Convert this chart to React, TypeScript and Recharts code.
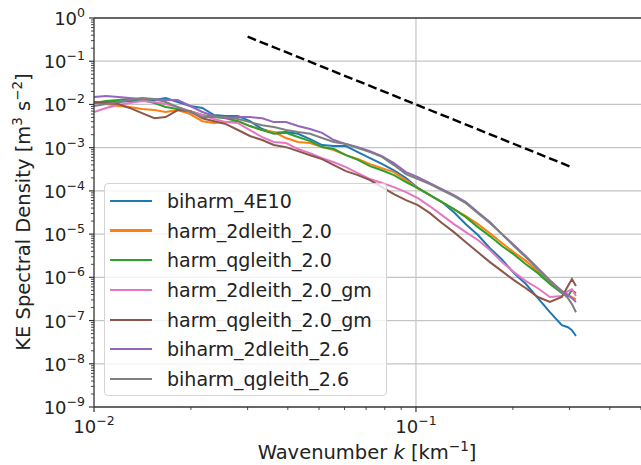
import { LineChart, Line, XAxis, YAxis, Legend, ReferenceLine, Label } from 'recharts';

// wavenumber k [1/km]
const wavenumber = [
	0.01, 0.0109, 0.0119, 0.0129, 0.0141, 0.0154, 0.0167, 0.0182, 0.0199, 0.0217, 0.0236, 0.0257, 0.028, 0.0305,
	0.0333, 0.0362, 0.0395, 0.043, 0.0469, 0.0511, 0.0556, 0.0606, 0.066, 0.072, 0.0784, 0.0854, 0.0931, 0.1014,
	0.1105, 0.1204, 0.1312, 0.1429, 0.1558, 0.1697, 0.1849, 0.2015, 0.2195, 0.2392, 0.2606, 0.2839, 0.2965, 0.3051,
	0.314,
];

// KE spectral density [m^3 s^-2]
const biharm4E10 = [
	1.08e-2, 1.14e-2, 1.14e-2, 1.2e-2, 1.2e-2, 1.26e-2, 1.41e-2, 1.14e-2, 9.2e-3, 8.3e-3, 5.7e-3, 5.4e-3, 5.4e-3, 4.1e-3,
	2.7e-3, 2.2e-3, 2.3e-3, 2.1e-3, 1.58e-3, 1.15e-3, 1.09e-3, 1.09e-3, 7.9e-4, 5.7e-4, 4.2e-4, 3.0e-4, 1.98e-4, 1.16e-4,
	8.0e-5, 5.5e-5, 3.2e-5, 1.7e-5, 9.5e-6, 4.7e-6, 2.6e-6, 1.25e-6, 7.0e-7, 3.3e-7, 1.56e-7, 7.8e-8, 7.0e-8, 6.0e-8,
	4.4e-8,
];
const harm2dleith = [
	1.14e-2, 1.02e-2, 9.2e-3, 8.7e-3, 7.8e-3, 7.4e-3, 6.7e-3, 7.4e-3, 6.0e-3, 4.1e-3, 3.7e-3, 3.9e-3, 4.1e-3, 3.16e-3,
	2.56e-3, 2.3e-3, 1.67e-3, 1.35e-3, 1.28e-3, 1.03e-3, 8.8e-4, 6.7e-4, 5.45e-4, 4.17e-4, 3.37e-4, 2.72e-4, 1.78e-4,
	1.16e-4, 8.0e-5, 5.5e-5, 3.8e-5, 2.6e-5, 1.7e-5, 1.05e-5, 6.2e-6, 3.8e-6, 2.4e-6, 1.39e-6, 7.7e-7, 4.8e-7, 3.9e-7,
	3.5e-7, 3.1e-7,
];
const harmQgleith = [
	1.08e-2, 1.2e-2, 1.26e-2, 1.33e-2, 1.26e-2, 1.08e-2, 8.7e-3, 7.8e-3, 7.0e-3, 5.7e-3, 5.1e-3, 4.8e-3, 4.1e-3, 3.16e-3,
	2.56e-3, 2.1e-3, 2.2e-3, 1.76e-3, 1.42e-3, 1.03e-3, 9.3e-4, 6.7e-4, 5.2e-4, 3.75e-4, 3.0e-4, 2.32e-4, 1.6e-4,
	1.16e-4, 8.0e-5, 5.5e-5, 3.8e-5, 2.47e-5, 1.45e-5, 9.0e-6, 5.3e-6, 3.4e-6, 2.0e-6, 1.25e-6, 7.0e-7, 4.3e-7, 3.7e-7,
	5.1e-7, 4.3e-7,
];
const harm2dleithGm = [
	6.7e-3, 8.3e-3, 9.7e-3, 1.08e-2, 1.2e-2, 1.14e-2, 1.02e-2, 8.7e-3, 7.0e-3, 5.7e-3, 4.6e-3, 3.9e-3, 3.7e-3, 2.56e-3,
	1.76e-3, 1.35e-3, 1.28e-3, 9.3e-4, 7.5e-4, 5.7e-4, 4.6e-4, 3.56e-4, 2.58e-4, 1.88e-4, 1.52e-4, 1.22e-4, 9.4e-5,
	6.8e-5, 4.4e-5, 2.75e-5, 1.7e-5, 1.11e-5, 7.3e-6, 4.3e-6, 2.25e-6, 1.32e-6, 8.2e-7, 5.6e-7, 3.5e-7, 3.7e-7, 4.8e-7,
	5.3e-7, 3.7e-7,
];
const harmQgleithGm = [
	1.14e-2, 1.08e-2, 1.02e-2, 8.3e-3, 6.3e-3, 4.8e-3, 5.1e-3, 7.4e-3, 7.0e-3, 4.8e-3, 4.1e-3, 3.5e-3, 2.56e-3, 1.86e-3,
	1.5e-3, 1.15e-3, 1.03e-3, 8.3e-4, 6.7e-4, 5.45e-4, 3.96e-4, 2.87e-4, 2.32e-4, 1.78e-4, 1.22e-4, 8.4e-5, 6.1e-5,
	4.7e-5, 3.06e-5, 1.8e-5, 1.11e-5, 6.5e-6, 3.8e-6, 2.25e-6, 1.39e-6, 8.6e-7, 5.6e-7, 3.5e-7, 2.7e-7, 3.5e-7, 6.3e-7,
	9.1e-7, 6.3e-7,
];
const biharm2dleith = [
	1.48e-2, 1.56e-2, 1.48e-2, 1.41e-2, 1.33e-2, 1.33e-2, 1.26e-2, 1.26e-2, 9.2e-3, 6.7e-3, 5.4e-3, 4.8e-3, 5.1e-3,
	5.1e-3, 4.8e-3, 3.9e-3, 3.9e-3, 3.16e-3, 2.7e-3, 2.2e-3, 1.5e-3, 1.21e-3, 1.03e-3, 8.3e-4, 6.4e-4, 4.4e-4, 2.72e-4,
	2.09e-4, 1.52e-4, 1.1e-4, 8.0e-5, 5.5e-5, 3.2e-5, 1.9e-5, 1.0e-5, 5.6e-6, 3.1e-6, 1.63e-6, 8.6e-7, 4.8e-7, 3.9e-7,
	3.3e-7, 2.7e-7,
];
const biharmQgleith = [
	9.2e-3, 1.02e-2, 1.14e-2, 1.26e-2, 1.41e-2, 1.33e-2, 1.14e-2, 8.7e-3, 6.7e-3, 5.1e-3, 5.1e-3, 5.1e-3, 4.6e-3, 3.9e-3,
	3.3e-3, 3.0e-3, 2.56e-3, 2.3e-3, 2.1e-3, 1.67e-3, 1.35e-3, 1.21e-3, 9.8e-4, 7.9e-4, 6.1e-4, 3.96e-4, 2.45e-4,
	1.88e-4, 1.44e-4, 1.04e-4, 7.6e-5, 5.2e-5, 3.06e-5, 1.8e-5, 1.0e-5, 5.3e-6, 2.9e-6, 1.55e-6, 8.2e-7, 4.5e-7, 3.3e-7,
	2.4e-7, 1.56e-7,
];

// k^-3 reference slope
const refK = [0.03, 0.3];
const refE = [0.37, 3.7e-4];

const xMajor = [0.01, 0.1];
const xMinor = [0.02, 0.03, 0.04, 0.05, 0.06, 0.07, 0.08, 0.09, 0.2, 0.3, 0.4, 0.5];
const yMajor = [1e-9, 1e-8, 1e-7, 1e-6, 1e-5, 1e-4, 1e-3, 1e-2, 1e-1, 1];
const yMinor = yMajor.slice(0, -1).flatMap((d) => [2, 3, 4, 5, 6, 7, 8, 9].map((m) => m * d));

const series = [
	{ name: 'biharm_4E10', values: biharm4E10, color: '#1f77b4' },
	{ name: 'harm_2dleith_2.0', values: harm2dleith, color: '#ff7f0e' },
	{ name: 'harm_qgleith_2.0', values: harmQgleith, color: '#2ca02c' },
	{ name: 'harm_2dleith_2.0_gm', values: harm2dleithGm, color: '#e377c2' },
	{ name: 'harm_qgleith_2.0_gm', values: harmQgleithGm, color: '#8c564b' },
	{ name: 'biharm_2dleith_2.6', values: biharm2dleith, color: '#9467bd' },
	{ name: 'biharm_qgleith_2.6', values: biharmQgleith, color: '#7f7f7f' },
];

const data = wavenumber.map((k, i) => {
	const row: Record<string, number> = { k };
	series.forEach((s) => (row[s.name] = s.values[i]));
	return row;
});

const FONT = 'DejaVu Sans, sans-serif';
const INK = '#222';
const SPINE = '#333';

const isDecade = (v: number) => Math.abs(Math.log10(v) - Math.round(Math.log10(v))) < 1e-6;
const expText = (v: number) => {
	const e = Math.round(Math.log10(v));
	return e < 0 ? `\u2212${-e}` : `${e}`;
};

const XTick = ({ x, y, payload }: any) => {
	const major = isDecade(payload.value);
	return (
		<g>
			<line x1={x} x2={x} y1={y} y2={y + (major ? 5 : 3)} stroke={SPINE} strokeWidth={major ? 1.2 : 0.9} />
			{major && (
				<text x={x} y={y + 26} textAnchor='middle' fontSize={18} fill={INK} fontFamily={FONT}>
					10
					<tspan dy={-8} fontSize={12.5}>
						{expText(payload.value)}
					</tspan>
				</text>
			)}
		</g>
	);
};

const YTick = ({ x, y, payload }: any) => {
	const major = isDecade(payload.value);
	return (
		<g>
			<line x1={x} x2={x - (major ? 5 : 3)} y1={y} y2={y} stroke={SPINE} strokeWidth={major ? 1.2 : 0.9} />
			{major && (
				<text x={x - 9} y={y + 7} textAnchor='end' fontSize={18} fill={INK} fontFamily={FONT}>
					10
					<tspan dy={-8} fontSize={12.5}>
						{expText(payload.value)}
					</tspan>
				</text>
			)}
		</g>
	);
};

const LegendBox = () => (
	<div
		style={{
			background: 'rgba(255,255,255,0.8)',
			border: '1px solid #d4d4d4',
			borderRadius: 4,
			boxSizing: 'border-box',
			width: 283,
			height: 213,
			paddingTop: 2,
			fontFamily: FONT,
			fontSize: 19,
			color: INK,
		}}
	>
		{series.map((s) => (
			<div key={s.name} style={{ display: 'flex', alignItems: 'center', height: 29.7 }}>
				<div style={{ width: 42, height: 2.2, background: s.color, marginLeft: 5, marginRight: 15 }} />
				<span style={{ lineHeight: '20px' }}>{s.name}</span>
			</div>
		))}
	</div>
);

const App = () => {
	return (
		<div style={{ position: 'absolute', left: 0, top: 0, background: '#fff' }}>
			<LineChart width={641} height={465} data={data} margin={{ top: 18, right: 0, bottom: 0, left: 0 }}>
				<XAxis
					dataKey='k'
					type='number'
					scale='log'
					domain={[0.01, 0.5]}
					allowDataOverflow
					ticks={[...xMajor, ...xMinor]}
					interval={0}
					height={58}
					tickSize={0}
					tickMargin={0}
					tickLine={false}
					tick={<XTick />}
					axisLine={{ stroke: SPINE, strokeWidth: 1.3 }}
				>
					<Label
						content={() => (
							<text x={367} y={459} textAnchor='middle' fontSize={19.5} fill={INK} fontFamily={FONT}>
								Wavenumber <tspan fontStyle='italic'>k</tspan> [km
								<tspan dy={-8} fontSize={13.5}>
									{'\u22121'}
								</tspan>
								<tspan dy={8}>]</tspan>
							</text>
						)}
					/>
				</XAxis>
				<YAxis
					type='number'
					scale='log'
					domain={[1e-9, 1]}
					allowDataOverflow
					ticks={[...yMajor, ...yMinor]}
					interval={0}
					width={94}
					tickSize={0}
					tickMargin={0}
					tickLine={false}
					tick={<YTick />}
					axisLine={{ stroke: SPINE, strokeWidth: 1.3 }}
				>
					<Label
						content={() => (
							<text
								x={30}
								y={212}
								transform='rotate(-90 30 212)'
								textAnchor='middle'
								fontSize={19.5}
								fill={INK}
								fontFamily={FONT}
							>
								KE Spectral Density [m
								<tspan dy={-8} fontSize={13.5}>
									3
								</tspan>
								<tspan dy={8}> s</tspan>
								<tspan dy={-8} fontSize={13.5}>
									{'\u22122'}
								</tspan>
								<tspan dy={8}>]</tspan>
							</text>
						)}
					/>
				</YAxis>

				{yMajor.slice(1, -1).map((v) => (
					<ReferenceLine key={`gy${v}`} y={v} stroke='#c4c4c4' strokeWidth={1.2} />
				))}
				<ReferenceLine x={xMajor[1]} stroke='#c4c4c4' strokeWidth={1.2} />
				<ReferenceLine y={1} stroke={SPINE} strokeWidth={1.3} />

				{series.map((s) => (
					<Line
						key={s.name}
						dataKey={s.name}
						type='linear'
						stroke={s.color}
						strokeWidth={2}
						dot={false}
						activeDot={false}
						isAnimationActive={false}
					/>
				))}

				<ReferenceLine
					segment={[
						{ x: refK[0], y: refE[0] },
						{ x: refK[1], y: refE[1] },
					]}
					stroke='#000'
					strokeWidth={2.4}
					strokeDasharray='9 4'
				/>

				<Legend
					layout='vertical'
					align='center'
					verticalAlign='middle'
					content={<LegendBox />}
					wrapperStyle={{ left: 104, top: 183, width: 283, height: 213 }}
				/>
			</LineChart>
		</div>
	);
};

export default App;
